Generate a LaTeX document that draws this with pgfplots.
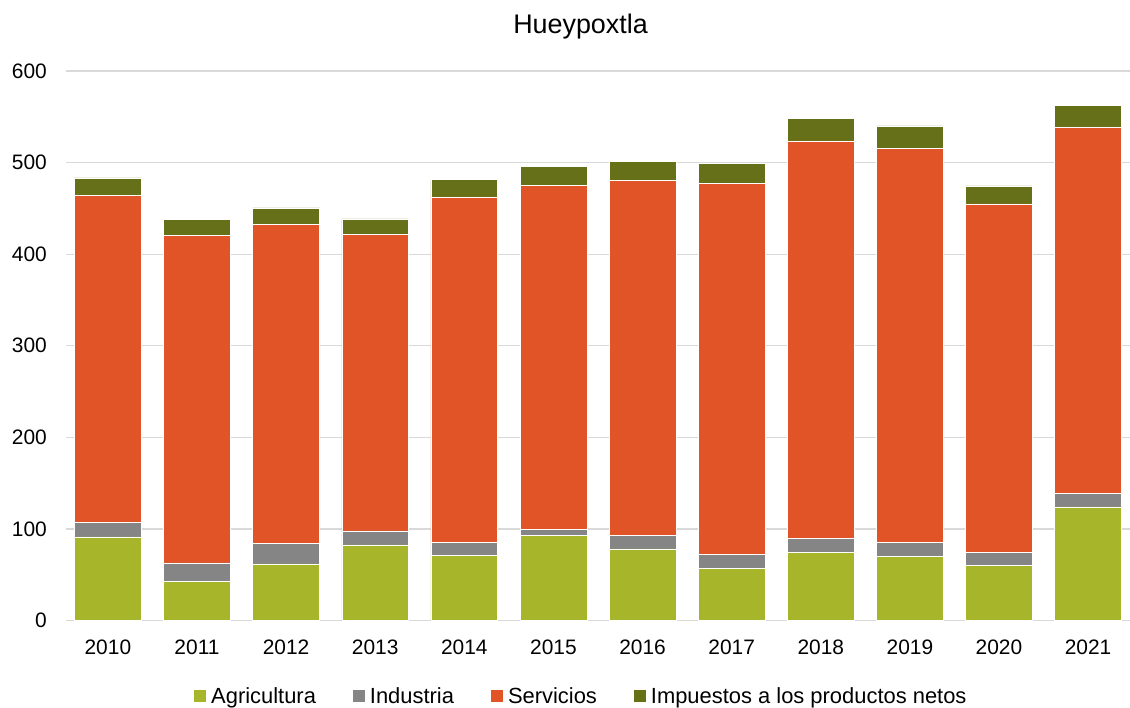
\documentclass[border=0pt]{standalone}
\usepackage{pgfplots}
\usepackage{pgfplotstable}
\pgfplotsset{compat=1.18}
\usepackage{fontspec}
\setmainfont{Liberation Sans}
\definecolor{agri}{HTML}{A6B52A}
\definecolor{ind}{HTML}{858585}
\definecolor{serv}{HTML}{E05427}
\definecolor{tax}{HTML}{657018}
\definecolor{gridc}{HTML}{D9D9D9}
\pgfplotstableread{
x agri ind serv tax
0 91.2 15.6 357.6 18.9
1 43.1 19.7 357.9 17.0
2 61.7 22.6 348.4 17.8
3 82.5 15.3 324.0 16.7
4 71.2 14.2 377.1 18.9
5 92.6 7.0 375.7 20.8
6 78.1 15.0 387.2 21.2
7 57.3 15.0 405.2 21.4
8 74.1 15.7 433.9 24.4
9 70.4 15.0 430.3 24.4
10 60.3 14.2 380.4 19.7
11 124.0 14.9 400.1 23.7
}\datatable
\begin{document}
\begin{tikzpicture}
\useasboundingbox (-66bp,-87.5bp) rectangle (1064bp,620.5bp);
\begin{axis}[
  at={(0,0)}, anchor=south west,
  scale only axis, width=1064bp, height=549.5bp,
  ybar stacked, bar width=0.75,
  xmin=-0.47, xmax=11.47, ymin=0, ymax=600,
  xtick={0,...,11},
  xticklabels={2010,2011,2012,2013,2014,2015,2016,2017,2018,2019,2020,2021},
  ytick={0,100,...,600},
  ymajorgrids, grid style={draw=gridc, line width=1.2bp},
  axis line style={draw=none},
  major tick length=0pt,
  tick label style={font=\fontsize{21}{24}\selectfont},
  /pgf/number format/assume math mode=true,
  yticklabel style={inner sep=0pt, xshift=-19bp},
  xticklabel style={inner sep=0pt, yshift=-19.5bp},
  title={Hueypoxtla},
  title style={at={(0.4836,1)}, anchor=base, yshift=31.7bp, inner sep=0pt, font=\fontsize{27}{30}\selectfont},
  legend style={at={(0.1203,-0.1374)}, anchor=west, draw=none, fill=none, inner sep=0pt,
    font=\fontsize{22}{26}\selectfont,
    /tikz/every even column/.append style={column sep=32bp},
    nodes={inner sep=5bp}},
  legend columns=4,
  legend image code/.code={\fill[#1, draw=none] (0bp,-6bp) rectangle (12bp,6bp);},
  every axis plot/.append style={draw=white, line width=0.5bp},
]
\addplot[fill=agri] table[x=x, y=agri] {\datatable};
\addplot[fill=ind] table[x=x, y=ind] {\datatable};
\addplot[fill=serv] table[x=x, y=serv] {\datatable};
\addplot[fill=tax] table[x=x, y=tax] {\datatable};
\legend{Agricultura, Industria, Servicios, Impuestos a los productos netos}
\end{axis}
\end{tikzpicture}
\end{document}
